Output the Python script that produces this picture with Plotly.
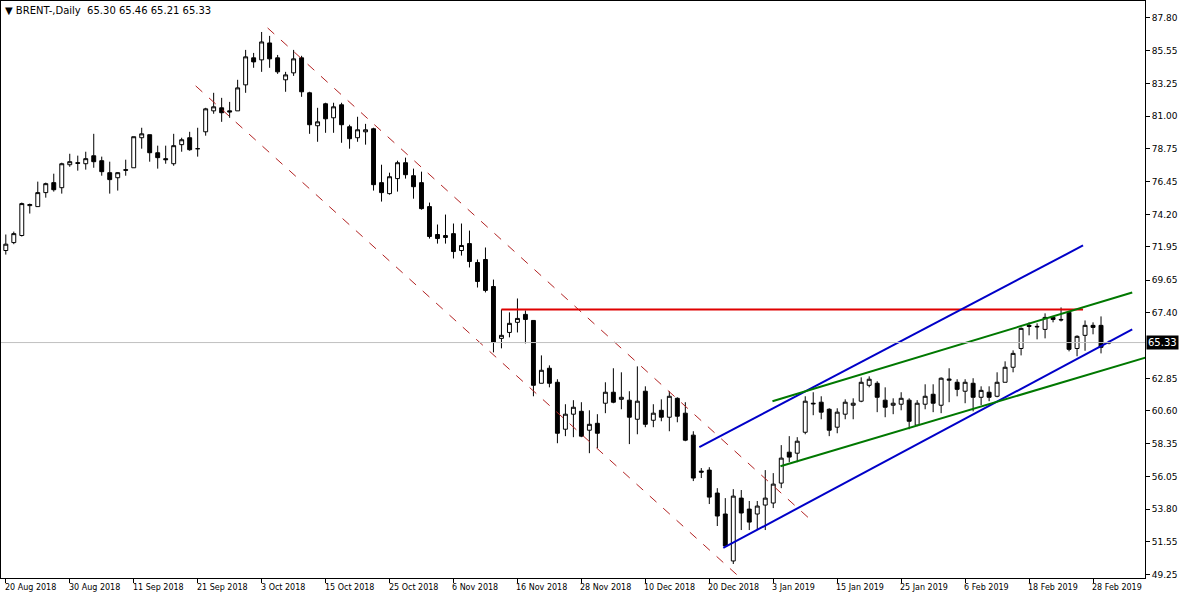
import plotly.graph_objects as go

# Brent daily OHLC, bar index 0 = 20 Aug 2018
opens = [71.70, 72.25, 72.74, 74.81, 74.74, 75.71, 76.40, 76.05, 77.64, 77.78,
         77.71, 78.26, 77.92, 77.09, 76.74, 77.30, 77.43, 79.51, 79.72, 78.47,
         78.06, 77.71, 79.03, 79.51, 78.75, 79.92, 81.37, 81.58, 81.37, 81.37,
         83.17, 85.04, 84.90, 86.07, 85.04, 83.52, 84.00, 85.04, 82.62, 80.34,
         81.86, 80.89, 81.79, 80.27, 79.51, 79.92, 80.13, 76.40, 75.64, 76.68,
         77.78, 76.88, 76.40, 74.74, 72.81, 72.60, 72.87, 71.70, 72.18, 70.87,
         71.08, 69.21, 65.62, 66.03, 66.73, 67.28, 66.86, 62.51, 63.55, 62.58,
         59.33, 60.37, 60.57, 59.26, 59.74, 61.13, 61.89, 61.40, 61.34, 60.02,
         61.96, 59.95, 60.64, 60.16, 61.47, 60.44, 58.92, 56.43, 56.50, 54.91,
         53.46, 50.21, 54.56, 53.80, 53.46, 54.08, 54.22, 55.60, 57.74, 57.67,
         59.12, 61.13, 61.20, 60.71, 59.47, 60.37, 60.99, 61.27, 62.37, 62.51,
         61.34, 60.99, 61.06, 61.34, 59.61, 61.06, 61.75, 60.99, 62.72, 62.58,
         61.96, 62.51, 61.54, 61.89, 61.61, 62.58, 63.62, 64.92, 66.52, 66.45,
         66.24, 67.07, 66.93, 67.42, 64.92, 65.83, 66.52, 66.52, 65.30]
highs = [72.81, 73.01, 75.02, 74.95, 76.47, 76.40, 77.02, 77.78, 78.40, 78.27,
         78.54, 79.78, 78.20, 77.85, 77.12, 77.99, 79.58, 80.20, 79.72, 78.96,
         78.96, 79.78, 79.51, 79.92, 80.20, 81.58, 82.62, 82.27, 81.99, 83.52,
         85.59, 85.38, 86.83, 86.56, 85.24, 84.07, 85.59, 85.18, 82.69, 81.58,
         81.93, 81.93, 81.93, 80.41, 80.96, 80.47, 80.20, 77.64, 77.09, 77.92,
         78.13, 77.37, 77.16, 75.02, 73.50, 74.19, 73.57, 73.57, 73.08, 71.08,
         71.91, 69.69, 67.62, 67.42, 68.38, 67.55, 66.86, 64.44, 63.75, 62.79,
         61.06, 61.34, 61.20, 60.64, 60.37, 62.58, 63.55, 63.27, 61.96, 63.68,
         62.30, 61.06, 61.40, 61.96, 61.54, 61.20, 59.19, 56.64, 56.70, 55.25,
         54.56, 55.18, 55.12, 54.36, 54.36, 56.50, 56.29, 58.23, 58.85, 58.78,
         61.61, 61.89, 61.61, 60.78, 60.78, 61.40, 61.47, 62.92, 62.99, 62.65,
         62.23, 61.47, 61.89, 61.47, 61.34, 62.44, 62.44, 62.92, 63.55, 62.79,
         62.79, 62.86, 62.30, 62.30, 63.27, 64.03, 64.79, 66.38, 66.73, 66.66,
         67.35, 67.14, 67.76, 67.49, 65.83, 66.86, 66.73, 67.14, 65.46]
lows = [71.42, 72.14, 72.67, 74.26, 74.74, 75.36, 75.78, 75.64, 77.50, 77.23,
        77.30, 77.43, 76.88, 75.64, 75.85, 76.88, 77.43, 78.75, 77.85, 77.37,
        77.71, 77.57, 78.54, 78.61, 78.20, 79.65, 81.17, 80.61, 80.89, 81.37,
        82.62, 84.35, 84.07, 84.35, 83.93, 82.69, 83.79, 82.34, 79.78, 79.23,
        79.85, 79.85, 79.16, 78.75, 79.23, 79.03, 75.85, 75.09, 75.57, 75.78,
        76.68, 75.29, 74.53, 72.53, 72.18, 72.18, 71.15, 71.35, 70.53, 69.14,
        68.80, 64.65, 64.93, 65.69, 66.03, 65.27, 61.61, 62.51, 62.23, 58.36,
        58.85, 58.78, 58.78, 57.67, 58.02, 60.44, 61.13, 60.71, 58.30, 58.98,
        59.47, 59.47, 59.88, 59.19, 59.81, 58.50, 55.74, 55.95, 54.15, 52.63,
        51.18, 50.00, 52.35, 52.35, 52.35, 52.35, 53.87, 55.25, 57.05, 57.05,
        58.98, 60.30, 60.02, 58.85, 59.05, 60.02, 60.02, 61.20, 62.23, 60.51,
        60.16, 60.37, 60.64, 59.33, 59.54, 60.71, 60.51, 60.44, 61.20, 61.61,
        61.13, 60.57, 61.00, 61.27, 61.54, 62.58, 63.27, 64.44, 65.83, 65.55,
        65.62, 66.73, 66.79, 64.72, 64.38, 64.76, 65.90, 64.58, 65.21]
closes = [72.14, 72.87, 74.95, 74.88, 75.71, 76.33, 75.91, 77.71, 77.85, 77.74,
          78.06, 77.85, 77.16, 76.61, 77.09, 77.26, 79.58, 79.78, 78.47, 78.13,
          77.99, 78.96, 79.37, 78.68, 78.75, 81.51, 81.65, 81.24, 81.30, 82.96,
          85.11, 84.76, 86.14, 84.97, 84.07, 83.86, 84.97, 82.69, 80.41, 80.61,
          80.82, 81.65, 80.41, 79.44, 80.06, 80.06, 76.26, 75.71, 76.81, 77.78,
          76.95, 76.12, 74.60, 72.67, 72.53, 72.74, 71.63, 72.05, 70.94, 69.56,
          68.94, 65.34, 65.83, 66.66, 67.00, 66.93, 62.37, 63.41, 62.51, 59.05,
          60.37, 60.85, 58.85, 59.67, 59.05, 61.89, 61.20, 61.54, 60.16, 61.27,
          59.67, 60.44, 60.16, 61.61, 60.23, 58.57, 55.95, 56.36, 54.63, 53.32,
          51.25, 54.70, 53.53, 52.90, 54.01, 54.56, 55.53, 57.33, 57.40, 58.50,
          61.27, 61.09, 60.51, 59.26, 60.51, 61.20, 61.13, 62.58, 62.79, 61.54,
          60.85, 61.13, 61.47, 59.88, 61.13, 61.61, 61.13, 62.86, 62.79, 62.09,
          62.58, 61.54, 62.02, 61.54, 62.58, 63.62, 64.58, 66.31, 66.45, 66.42,
          67.07, 66.93, 66.90, 64.86, 65.76, 66.52, 66.38, 65.00, 65.33]

date_labels = ["20 Aug 2018", "30 Aug 2018", "11 Sep 2018", "21 Sep 2018", "3 Oct 2018",
               "15 Oct 2018", "25 Oct 2018", "6 Nov 2018", "16 Nov 2018", "28 Nov 2018",
               "10 Dec 2018", "20 Dec 2018", "3 Jan 2019", "15 Jan 2019", "25 Jan 2019",
               "6 Feb 2019", "18 Feb 2019", "28 Feb 2019"]
price_ticks = [87.80, 85.55, 83.25, 81.00, 78.75, 76.45, 74.20, 71.95, 69.65,
               67.40, 62.85, 60.60, 58.35, 56.05, 53.80, 51.55, 49.25]
last_price = 65.33

# drawn objects: (bar index, price) endpoints
red_dash_upper = ([32.75, 101.0], [87.11, 52.90])
red_dash_lower = ([23.75, 91.9], [83.10, 49.03])
resistance = ([62.0, 134.75], [67.62, 67.62])
blue_upper = ([86.75, 134.75], [58.09, 72.05])
blue_lower = ([89.75, 140.9], [51.11, 66.24])
green_upper = ([95.9, 140.9], [61.27, 68.80])
green_lower = ([96.9, 143.9], [56.77, 64.51])

idx = list(range(len(opens)))
tick_pos = [i * 8 for i in range(len(date_labels))]

fig = go.Figure()
fig.add_hline(y=last_price, line=dict(color="#c0c0c0", width=1))
fig.add_trace(go.Candlestick(
    x=idx, open=opens, high=highs, low=lows, close=closes,
    increasing=dict(line=dict(color="black", width=1), fillcolor="white"),
    decreasing=dict(line=dict(color="black", width=1), fillcolor="black"),
    whiskerwidth=0, showlegend=False, hoverinfo="skip"))

for pts, col, w, dash in [(red_dash_upper, "#b22222", 1, "dash"),
                          (red_dash_lower, "#b22222", 1, "dash"),
                          (resistance, "#e00000", 2, "solid"),
                          (blue_upper, "#0000c8", 2, "solid"),
                          (blue_lower, "#0000c8", 2, "solid"),
                          (green_upper, "#007800", 2, "solid"),
                          (green_lower, "#007800", 2, "solid")]:
    fig.add_trace(go.Scatter(x=pts[0], y=pts[1], mode="lines",
                             line=dict(color=col, width=w, dash=dash),
                             showlegend=False, hoverinfo="skip"))

# date labels, left aligned at their bar like the terminal draws them
for pos, lab in zip(tick_pos, date_labels):
    fig.add_annotation(x=pos, xref="x", xanchor="left", y=0, yref="paper", yanchor="top",
                       text=lab, showarrow=False, xshift=-3, yshift=-3,
                       font=dict(color="black", size=8, family="DejaVu Sans"))

fig.add_annotation(x=1, xref="paper", xanchor="left", y=last_price, yref="y",
                   text="65.33", showarrow=False, bgcolor="black",
                   font=dict(color="white", size=10, family="DejaVu Sans"),
                   borderpad=1, xshift=1)
fig.add_annotation(x=0, xref="paper", xanchor="left", y=1, yref="paper", yanchor="top",
                   text="▼ BRENT-,Daily  65.30 65.46 65.21 65.33", showarrow=False,
                   font=dict(color="black", size=10, family="DejaVu Sans"), xshift=2, yshift=-2)

fig.update_layout(
    width=1200, height=600, plot_bgcolor="white", paper_bgcolor="white",
    margin=dict(l=1, r=55, t=1, b=22, autoexpand=False),
    font=dict(family="DejaVu Sans", size=9, color="black"),
    xaxis=dict(range=[-0.6, 142.5], rangeslider=dict(visible=False), automargin=False,
               tickvals=tick_pos, showticklabels=False,
               showgrid=False, zeroline=False, showline=True, linecolor="black",
               mirror=True, ticks="outside", ticklen=4, tickcolor="black"),
    yaxis=dict(range=[49.03, 88.975], side="right", tickvals=price_ticks, automargin=False,
               ticktext=[f"{v:.2f}" for v in price_ticks], showgrid=False, zeroline=False,
               showline=True, linecolor="black", mirror=True, ticks="outside",
               ticklen=4, tickcolor="black"),
)

# the page body has a default 8px margin; drop it so the figure fills the window
fig.write_html("out.html", config={"displayModeBar": False},
               post_script="document.body.style.margin='0';")
